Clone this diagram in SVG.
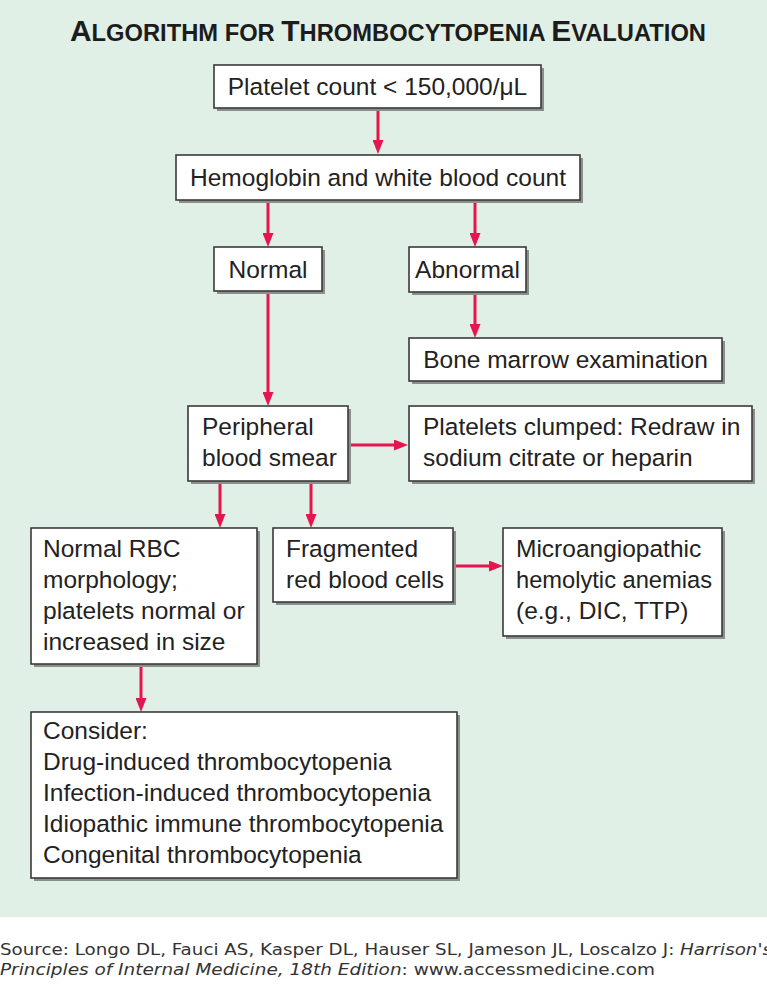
<svg xmlns="http://www.w3.org/2000/svg" width="767" height="987" viewBox="0 0 767 987">
<style>
.bg{fill:#e1f0e6}
.box{fill:#ffffff;stroke:#3a3a3a;stroke-width:1.6}
.sh{fill:#8a8f8c}
.t{font-family:"Liberation Sans",Arial,Helvetica,sans-serif;font-size:24.5px;fill:#222}
.title{font-family:"Liberation Sans",Arial,Helvetica,sans-serif;font-weight:bold;fill:#1c1c1c}
.src{font-family:"DejaVu Sans",Verdana,sans-serif;font-size:15px;fill:#333}
.c{stroke:#e5164f;stroke-width:3;fill:none}
</style>
<defs>
<marker id="ah" viewBox="0 0 14 11" refX="8" refY="5.5" markerWidth="14" markerHeight="11" markerUnits="userSpaceOnUse" orient="auto">
<path d="M0,0 L14,5.5 L0,11 z" fill="#e5164f"/>
</marker>
</defs>
<rect class="bg" x="0" y="0" width="767" height="917"/>
<rect x="0" y="917" width="767" height="70" fill="#ffffff"/>
<text class="title" x="70" y="41" textLength="636" lengthAdjust="spacingAndGlyphs"><tspan font-size="29">A</tspan><tspan font-size="23">LGORITHM FOR </tspan><tspan font-size="29">T</tspan><tspan font-size="23">HROMBOCYTOPENIA </tspan><tspan font-size="29">E</tspan><tspan font-size="23">VALUATION</tspan></text>
<g id="connectors">
<path class="c" d="M378,108 V148" marker-end="url(#ah)"/>
<path class="c" d="M268,200 V241" marker-end="url(#ah)"/>
<path class="c" d="M475,200 V241" marker-end="url(#ah)"/>
<path class="c" d="M475,292 V332" marker-end="url(#ah)"/>
<path class="c" d="M268,291 V400" marker-end="url(#ah)"/>
<path class="c" d="M348,445 H402" marker-end="url(#ah)"/>
<path class="c" d="M220,481 V522" marker-end="url(#ah)"/>
<path class="c" d="M311,481 V522" marker-end="url(#ah)"/>
<path class="c" d="M453,566 H497" marker-end="url(#ah)"/>
<path class="c" d="M141,664 V706" marker-end="url(#ah)"/>
</g>
<g id="n1"><rect class="sh" x="217" y="68" width="327" height="43"/><rect class="box" x="214" y="65" width="327" height="43"/><text class="t" x="377.5" y="95" text-anchor="middle">Platelet count &lt; 150,000/μL</text></g>
<g id="n2"><rect class="sh" x="179" y="158" width="404" height="45"/><rect class="box" x="176" y="155" width="404" height="45"/><text class="t" x="378" y="186" text-anchor="middle">Hemoglobin and white blood count</text></g>
<g id="n3"><rect class="sh" x="217" y="250" width="108" height="44"/><rect class="box" x="214" y="247" width="108" height="44"/><text class="t" x="268" y="278" text-anchor="middle">Normal</text></g>
<g id="n4"><rect class="sh" x="412" y="250" width="117" height="45"/><rect class="box" x="409" y="247" width="117" height="45"/><text class="t" x="467.5" y="278" text-anchor="middle">Abnormal</text></g>
<g id="n5"><rect class="sh" x="412" y="341" width="313" height="43"/><rect class="box" x="409" y="338" width="313" height="43"/><text class="t" x="565.5" y="368" text-anchor="middle">Bone marrow examination</text></g>
<g id="n6"><rect class="sh" x="191" y="409" width="160" height="75"/><rect class="box" x="188" y="406" width="160" height="75"/><text class="t" x="202" y="435">Peripheral</text><text class="t" x="202" y="466">blood smear</text></g>
<g id="n7"><rect class="sh" x="412" y="409" width="343" height="75"/><rect class="box" x="409" y="406" width="343" height="75"/><text class="t" x="423" y="435">Platelets clumped: Redraw in</text><text class="t" x="423" y="466">sodium citrate or heparin</text></g>
<g id="n8"><rect class="sh" x="34" y="531" width="226" height="136"/><rect class="box" x="31" y="528" width="226" height="136"/><text class="t" x="43" y="557">Normal RBC</text><text class="t" x="43" y="588">morphology;</text><text class="t" x="43" y="619">platelets normal or</text><text class="t" x="43" y="650">increased in size</text></g>
<g id="n9"><rect class="sh" x="276" y="531" width="180" height="74"/><rect class="box" x="273" y="528" width="180" height="74"/><text class="t" x="286" y="557">Fragmented</text><text class="t" x="286" y="588">red blood cells</text></g>
<g id="n10"><rect class="sh" x="506" y="531" width="219" height="108"/><rect class="box" x="503" y="528" width="219" height="108"/><text class="t" x="516" y="557">Microangiopathic</text><text class="t" x="516" y="588" textLength="196" lengthAdjust="spacingAndGlyphs">hemolytic anemias</text><text class="t" x="516" y="619">(e.g., DIC, TTP)</text></g>
<g id="n11"><rect class="sh" x="34" y="715" width="426" height="166"/><rect class="box" x="31" y="712" width="426" height="166"/><text class="t" x="43" y="739">Consider:</text><text class="t" x="43" y="770">Drug-induced thrombocytopenia</text><text class="t" x="43" y="801">Infection-induced thrombocytopenia</text><text class="t" x="43" y="832">Idiopathic immune thrombocytopenia</text><text class="t" x="43" y="863">Congenital thrombocytopenia</text></g>
<text class="src" x="0" y="955" textLength="772" lengthAdjust="spacingAndGlyphs">Source: Longo DL, Fauci AS, Kasper DL, Hauser SL, Jameson JL, Loscalzo J: <tspan font-style="italic">Harrison's</tspan></text>
<text class="src" x="0" y="975" textLength="655" lengthAdjust="spacingAndGlyphs"><tspan font-style="italic">Principles of Internal Medicine, 18th Edition</tspan>: www.accessmedicine.com</text>
</svg>
